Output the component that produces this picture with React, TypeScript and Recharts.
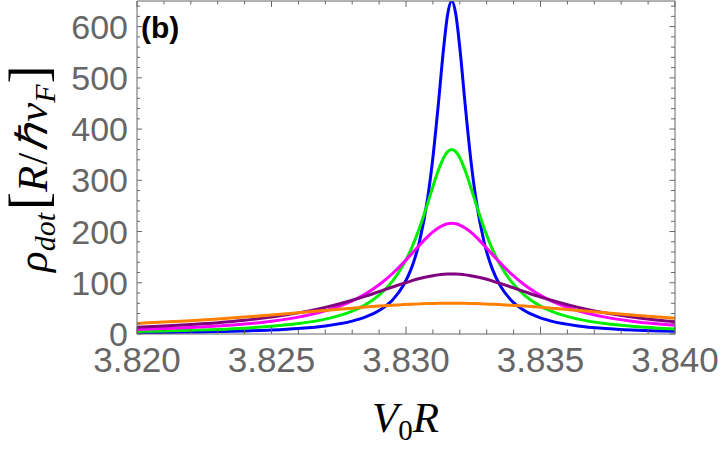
import { LineChart, Line, XAxis, YAxis } from "recharts";

// V0R sample positions (denser near the resonance)
const v0R = [
  3.82, 3.821, 3.822, 3.823, 3.824, 3.825, 3.826, 3.827, 3.828, 3.8285, 3.829, 3.8295, 3.8299,
  3.8302, 3.8305, 3.8308, 3.831, 3.8312, 3.8314, 3.83155, 3.8317, 3.83185, 3.832, 3.8322,
  3.8324, 3.8326, 3.8329, 3.8332, 3.8335, 3.8339, 3.8344, 3.8349, 3.8354, 3.8364, 3.8374,
  3.8384, 3.8394, 3.84,
];

const rhoBlue = [
  2.6, 3.1, 3.8, 4.7, 6.0, 7.9, 10.9, 15.8, 25.2, 33.3, 45.8, 66.5, 94.6, 128.1, 180.1, 263.4,
  344.4, 447.4, 558.9, 624.5, 650, 624.5, 558.9, 447.4, 344.4, 263.4, 180.1, 128.1, 94.6, 66.5,
  45.8, 33.3, 25.2, 15.8, 10.9, 7.9, 6.0, 5.2,
];
const rhoGreen = [
  5.0, 6.0, 7.3, 9.0, 11.4, 14.9, 20.3, 29.1, 44.7, 57.4, 75.8, 103.1, 135.0, 166.8, 206.8, 254.1,
  287.5, 319.0, 344.1, 355.9, 360, 355.9, 344.1, 319.0, 287.5, 254.1, 206.8, 166.8, 135.0, 103.1,
  75.8, 57.4, 44.7, 29.1, 20.3, 14.9, 11.4, 9.9,
];
const rhoMagenta = [
  8.8, 10.5, 12.6, 15.5, 19.4, 24.9, 32.9, 45.1, 64.6, 78.4, 96.0, 118.1, 138.9, 155.9, 173.3,
  189.7, 199.3, 207.1, 212.7, 215.2, 216, 215.2, 212.7, 207.1, 199.3, 189.7, 173.3, 155.9, 138.9,
  118.1, 96.0, 78.4, 64.6, 45.1, 32.9, 24.9, 19.4, 16.9,
];
const rhoPurple = [
  13.4, 15.6, 18.5, 22.1, 26.8, 33.0, 41.2, 51.9, 65.9, 74.0, 82.8, 91.8, 98.8, 103.8, 108.2,
  111.9, 113.8, 115.4, 116.4, 116.9, 117, 116.9, 116.4, 115.4, 113.8, 111.9, 108.2, 103.8, 98.8,
  91.8, 82.8, 74.0, 65.9, 51.9, 41.2, 33.0, 26.8, 23.9,
];
const rhoOrange = [
  20.7, 23.2, 26.1, 29.3, 33.0, 37.0, 41.4, 46.0, 50.4, 52.6, 54.5, 56.2, 57.4, 58.2, 58.8, 59.3,
  59.6, 59.8, 59.9, 60.0, 60, 60.0, 59.9, 59.8, 59.6, 59.3, 58.8, 58.2, 57.4, 56.2, 54.5, 52.6,
  50.4, 46.0, 41.4, 37.0, 33.0, 30.7,
];

const xTicks = [
  3.82, 3.821, 3.822, 3.823, 3.824, 3.825, 3.826, 3.827, 3.828, 3.829, 3.83, 3.831, 3.832, 3.833,
  3.834, 3.835, 3.836, 3.837, 3.838, 3.839, 3.84,
];
const yTicks = [
  0, 20, 40, 60, 80, 100, 120, 140, 160, 180, 200, 220, 240, 260, 280, 300, 320, 340, 360, 380,
  400, 420, 440, 460, 480, 500, 520, 540, 560, 580, 600, 620, 640,
];

const data = v0R.map((x, i) => ({
  x,
  blue: rhoBlue[i],
  green: rhoGreen[i],
  magenta: rhoMagenta[i],
  purple: rhoPurple[i],
  orange: rhoOrange[i],
}));

const axisGray = "#666";
const tickFont = "'Liberation Sans', Arial, sans-serif";

const isMajorX = (v: number) => Math.abs(v * 200 - Math.round(v * 200)) < 1e-6;
const isMajorY = (v: number) => v % 100 === 0;

function BottomTick(props: any) {
  const { x, y, payload } = props;
  const major = isMajorX(payload.value);
  return (
    <g>
      <line x1={x} x2={x} y1={y} y2={y - (major ? 7.5 : 4.5)} stroke={axisGray} strokeWidth={1} />
      {major && (
        <text x={x} y={y + 38} textAnchor="middle" fill={axisGray} fontSize={35} fontFamily={tickFont}>
          {payload.value.toFixed(3)}
        </text>
      )}
    </g>
  );
}

function TopTick(props: any) {
  const { x, y, payload } = props;
  const major = isMajorX(payload.value);
  return <line x1={x} x2={x} y1={y} y2={y + (major ? 6 : 3.5)} stroke={axisGray} strokeWidth={1} />;
}

function LeftTick(props: any) {
  const { x, y, payload } = props;
  const major = isMajorY(payload.value);
  return (
    <g>
      <line x1={x} x2={x + (major ? 5 : 3)} y1={y} y2={y} stroke={axisGray} strokeWidth={1} />
      {major && (
        <text x={x - 9} y={y + 12} textAnchor="end" fill={axisGray} fontSize={34} fontFamily={tickFont}>
          {payload.value}
        </text>
      )}
    </g>
  );
}

function RightTick(props: any) {
  const { x, y, payload } = props;
  const major = isMajorY(payload.value);
  return <line x1={x} x2={x - (major ? 5.5 : 4)} y1={y} y2={y} stroke={axisGray} strokeWidth={1} />;
}

export default function App() {
  return (
    <div style={{ position: "absolute", left: 0, top: 0, width: 720, height: 452, background: "#fff" }}>
      <LineChart width={720} height={452} data={data} margin={{ top: 0, right: 44, bottom: 117, left: 136 }}>
        <XAxis
          dataKey="x"
          type="number"
          domain={[3.82, 3.84]}
          ticks={xTicks}
          interval={0}
          allowDataOverflow
          height={1}
          tickSize={0}
          tickMargin={0}
          tickLine={false}
          tick={<BottomTick />}
          axisLine={{ stroke: axisGray }}
        />
        <XAxis
          xAxisId="top"
          orientation="top"
          dataKey="x"
          type="number"
          domain={[3.82, 3.84]}
          ticks={xTicks}
          interval={0}
          allowDataOverflow
          height={1}
          tickSize={0}
          tickMargin={0}
          tickLine={false}
          tick={<TopTick />}
          axisLine={{ stroke: axisGray }}
        />
        <YAxis
          type="number"
          domain={[0, 650]}
          ticks={yTicks}
          interval={0}
          allowDataOverflow
          width={1}
          tickSize={0}
          tickMargin={0}
          tickLine={false}
          tick={<LeftTick />}
          axisLine={{ stroke: axisGray }}
        />
        <YAxis
          yAxisId="right"
          orientation="right"
          type="number"
          domain={[0, 650]}
          ticks={yTicks}
          interval={0}
          allowDataOverflow
          width={1}
          tickSize={0}
          tickMargin={0}
          tickLine={false}
          tick={<RightTick />}
          axisLine={{ stroke: axisGray }}
        />
        <Line type="monotone" dataKey="blue" stroke="#0000ff" strokeWidth={3} dot={false} activeDot={false} isAnimationActive={false} />
        <Line type="monotone" dataKey="green" stroke="#00ee00" strokeWidth={3} dot={false} activeDot={false} isAnimationActive={false} />
        <Line type="monotone" dataKey="magenta" stroke="#ff00ff" strokeWidth={3} dot={false} activeDot={false} isAnimationActive={false} />
        <Line type="monotone" dataKey="purple" stroke="#800080" strokeWidth={3} dot={false} activeDot={false} isAnimationActive={false} />
        <Line type="monotone" dataKey="orange" stroke="#ff8000" strokeWidth={3} dot={false} activeDot={false} isAnimationActive={false} />
      </LineChart>
      <svg width={720} height={452} style={{ position: "absolute", left: 0, top: 0, pointerEvents: "none" }}>
        <text x={141} y={38} fontSize={30} fontWeight="bold" fontFamily={tickFont} fill="#000">
          (b)
        </text>
        <text
          transform="translate(47,272) rotate(-90)"
          fontFamily="'Liberation Serif', 'Times New Roman', serif"
          fontSize={43}
          fill="#000"
        >
          <tspan fontStyle="italic">ρ</tspan>
          <tspan fontStyle="italic" fontSize={30} dy={8}>dot</tspan>
          <tspan fontSize={54} dy={-8} dx={3}>[</tspan>
          <tspan fontStyle="italic">R</tspan>
          <tspan dx={1}>/</tspan>
          <tspan fontStyle="italic" dx={2}>ℏ</tspan>
          <tspan fontStyle="italic" dx={3}>v</tspan>
          <tspan fontStyle="italic" fontSize={30} dy={8}>F</tspan>
          <tspan fontSize={54} dy={-8} dx={1}>]</tspan>
        </text>
        <text x={372} y={432} fontFamily="'Liberation Serif', 'Times New Roman', serif" fontSize={43} fill="#000">
          <tspan fontStyle="italic">V</tspan>
          <tspan fontSize={29} dy={8}>0</tspan>
          <tspan fontStyle="italic" dy={-8}>R</tspan>
        </text>
      </svg>
    </div>
  );
}
